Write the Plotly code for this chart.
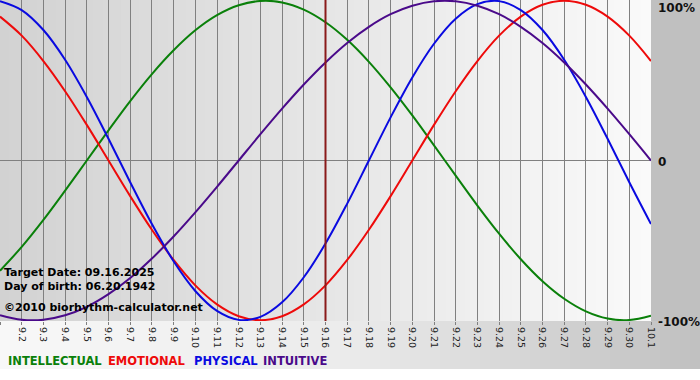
import plotly.graph_objects as go

# ---- data ----
day_labels = ["9.1", "9.2", "9.3", "9.4", "9.5", "9.6", "9.7", "9.8", "9.9", "9.10",
              "9.11", "9.12", "9.13", "9.14", "9.15", "9.16", "9.17", "9.18", "9.19", "9.20",
              "9.21", "9.22", "9.23", "9.24", "9.25", "9.26", "9.27", "9.28", "9.29", "9.30", "10.1"]
days = list(range(len(day_labels)))

physical = [0.998, 0.942, 0.817, 0.631, 0.398, 0.136, -0.136, -0.398, -0.631, -0.817,
            -0.942, -0.998, -0.979, -0.888, -0.731, -0.520, -0.270, 0.0, 0.270, 0.520,
            0.731, 0.888, 0.979, 0.998, 0.942, 0.817, 0.631, 0.398, 0.136, -0.136, -0.398]
emotional = [0.901, 0.782, 0.623, 0.434, 0.223, 0.0, -0.223, -0.434, -0.623, -0.782,
             -0.901, -0.975, -1.0, -0.975, -0.901, -0.782, -0.623, -0.434, -0.223, 0.0,
             0.223, 0.434, 0.623, 0.782, 0.901, 0.975, 1.0, 0.975, 0.901, 0.782, 0.623]
intellectual = [-0.690, -0.541, -0.372, -0.189, 0.0, 0.189, 0.372, 0.541, 0.690, 0.815,
                0.910, 0.972, 0.999, 0.990, 0.945, 0.866, 0.756, 0.618, 0.458, 0.282,
                0.095, -0.095, -0.282, -0.458, -0.618, -0.756, -0.866, -0.945, -0.990, -0.999, -0.972]
intuitive = [-0.969, -0.997, -0.997, -0.969, -0.916, -0.837, -0.736, -0.614, -0.476, -0.325,
             -0.165, 0.0, 0.165, 0.325, 0.476, 0.614, 0.736, 0.837, 0.916, 0.969,
             0.997, 0.997, 0.969, 0.916, 0.837, 0.736, 0.614, 0.476, 0.325, 0.165, 0.0]
target_day = 15  # 9.16

series = [("INTELLECTUAL", intellectual, "#0a800a"),
          ("EMOTIONAL", emotional, "#ee0a0a"),
          ("PHYSICAL", physical, "#0a0ae0"),
          ("INTUITIVE", intuitive, "#4a0a8a")]

W, H = 700, 380
ML, MR, MT, MB = 0, 49, 0, 59
PW = W - ML - MR          # 651
PH = H - MT - MB          # 321

fig = go.Figure()
for name, vals, col in series:
    fig.add_trace(go.Scatter(x=days, y=vals, mode="lines", name=name,
                             line=dict(color=col, width=2, shape="spline", smoothing=1.0),
                             showlegend=False, hoverinfo="skip"))

shapes = []


def lerp(c0, c1, t):
    return int(round(c0 + (c1 - c0) * t))


# plot-area horizontal gradient
N = 70
for i in range(N):
    t = (i + 0.5) / N
    g = lerp(0xd2, 0xfa, t)
    shapes.append(dict(type="rect", xref="paper", yref="paper",
                       x0=i / N, x1=(i + 1) / N + 0.002, y0=0, y1=1,
                       fillcolor=f"rgb({g},{g},{g})", line=dict(width=0), layer="below"))

# right margin gray
shapes.append(dict(type="rect", xref="paper", yref="paper",
                   x0=1, x1=W / PW + 0.01, y0=0, y1=1.01,
                   fillcolor="#c0c0c0", line=dict(width=0), layer="below"))

# bottom band gradient
yb = -(369 - PH) / PH
M = 70
for i in range(M):
    px = (i + 0.5) / M * W
    if px < 350:
        g = lerp(0xf8, 0xeb, px / 350)
    else:
        g = lerp(0xeb, 0xc0, (px - 350) / 350)
    shapes.append(dict(type="rect", xref="paper", yref="paper",
                       x0=i / M * W / PW, x1=(i + 1) / M * W / PW + 0.002, y0=yb, y1=0,
                       fillcolor=f"rgb({g},{g},{g})", line=dict(width=0), layer="below"))

# target day marker
shapes.append(dict(type="line", xref="x", yref="paper", x0=target_day, x1=target_day,
                   y0=0, y1=1, line=dict(color="#8a1a1a", width=2), layer="above"))

font_fam = "DejaVu Sans, Verdana, sans-serif"
annotations = []
for txt, ypx in [("100%", 8), ("0", 162), ("-100%", 322)]:
    annotations.append(dict(text=f"<b>{txt}</b>", xref="paper", yref="paper",
                            x=656 / PW, y=(PH - ypx) / PH, xanchor="left", yanchor="middle",
                            showarrow=False, font=dict(family=font_fam, size=12, color="#111")))

for txt, ypx in [("Target Date: 09.16.2025", 272), ("Day of birth: 06.20.1942", 286),
                 ("©2010 biorhythm-calculator.net", 307)]:
    annotations.append(dict(text=f"<b>{txt}</b>", xref="paper", yref="paper",
                            x=2 / PW, y=(PH - ypx) / PH, xanchor="left", yanchor="middle",
                            showarrow=False, font=dict(family=font_fam, size=11, color="#000")))

leg_x = [6, 106, 192, 261]
for (name, _, col), xp in zip(series, leg_x):
    annotations.append(dict(text=f"<b>{name}</b>", xref="paper", yref="paper",
                            x=xp / PW, y=(PH - 361) / PH, xanchor="left", yanchor="middle",
                            showarrow=False, font=dict(family=font_fam, size=11.5, color=col)))

fig.update_layout(
    width=W, height=H,
    margin=dict(l=ML, r=MR, t=MT, b=MB, pad=0),
    paper_bgcolor="white", plot_bgcolor="rgba(0,0,0,0)",
    shapes=shapes, annotations=annotations,
    xaxis=dict(range=[0, 30], tickvals=days, ticktext=day_labels, tickangle=90,
               showgrid=True, gridcolor="#808080", gridwidth=1, zeroline=False,
               ticks="outside", ticklen=3, tickcolor="#808080",
               tickfont=dict(family=font_fam, size=9.5, color="#222"),
               showline=False, fixedrange=True),
    yaxis=dict(range=[-1.005, 1.005], tickvals=[-1, 0, 1], showticklabels=False,
               showgrid=True, gridcolor="#808080", gridwidth=1, zeroline=False,
               showline=False, fixedrange=True),
    showlegend=False,
)

fig.write_html("out.html", config={"displayModeBar": False},
               post_script="document.body.style.margin='0';document.body.style.overflow='hidden';")
